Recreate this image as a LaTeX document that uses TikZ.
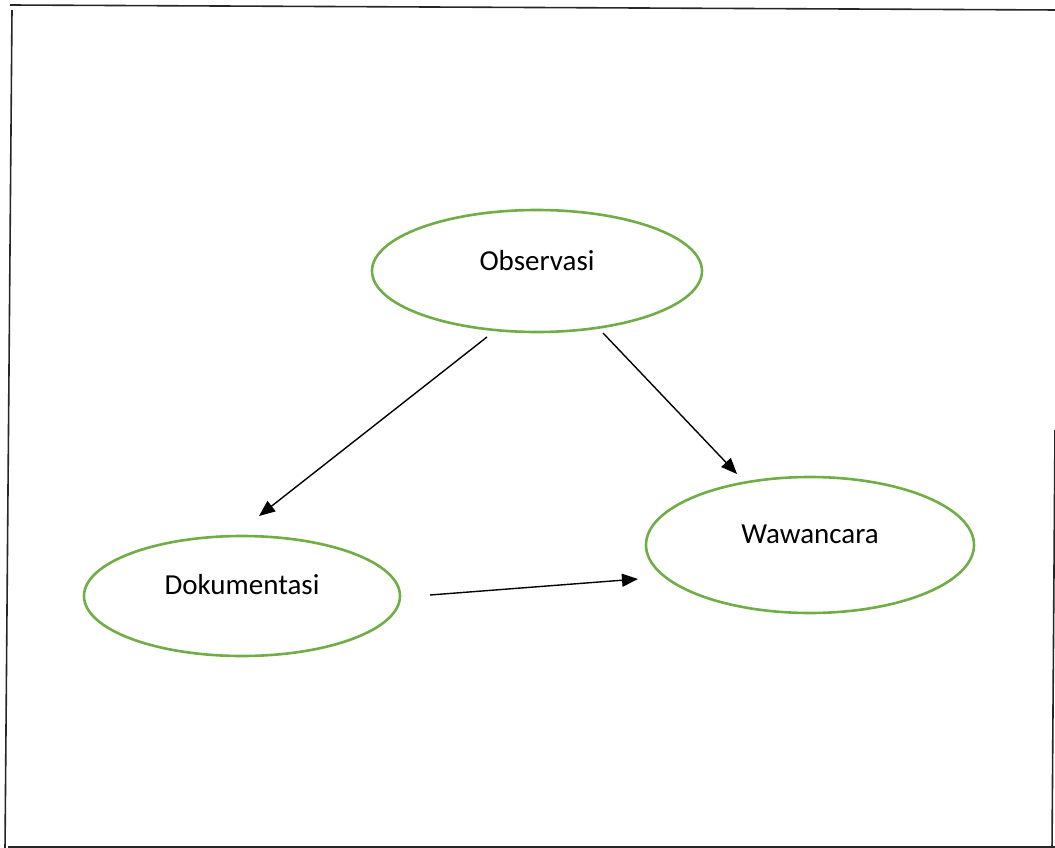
\documentclass[tikz,border=0pt]{standalone}
\usepackage{fontspec}
\setmainfont{Carlito}
\usetikzlibrary{arrows.meta}
\definecolor{officegreen}{HTML}{70AD47}
\tikzset{
  oval/.style={draw=officegreen, line width=2.6pt, ellipse, minimum width=#1},
  lbl/.style={font=\fontsize{29}{35}\selectfont},
  conn/.style={line width=1.4pt, -{Triangle[length=16pt,width=13pt]}},
  frame/.style={line width=1.6pt, black!85}
}
\usetikzlibrary{shapes.geometric}
\begin{document}
\begin{tikzpicture}[x=1pt,y=-1pt]
\useasboundingbox (0,0) rectangle (1055,848);
% frame
\draw[frame] (10,5) -- (1058,10);
\draw[frame] (12,10) -- (5,850);
\draw[frame] (8,847) -- (1058,847);
\draw[frame] (1055,430) -- (1052,850);
% ellipses
\draw[draw=officegreen, line width=2.6pt] (537,271) ellipse [x radius=165, y radius=61];
\draw[draw=officegreen, line width=2.6pt] (810,545) ellipse [x radius=164, y radius=68];
\draw[draw=officegreen, line width=2.6pt] (242,596) ellipse [x radius=158, y radius=60];
% labels
\node[lbl] (obs) at (537,261) {Observasi};
\node[lbl] (waw) at (810,534) {Wawancara};
\node[lbl] (dok) at (242,585) {Dokumentasi};
% connector ends
\coordinate (a1) at (487,337);
\coordinate (b1) at (259,516);
\coordinate (a2) at (603,333);
\coordinate (b2) at (737,474);
\coordinate (a3) at (430,595);
\coordinate (b3) at (638,579);
\draw[conn] (a1) -- (b1);
\draw[conn] (a2) -- (b2);
\draw[conn] (a3) -- (b3);
\end{tikzpicture}
\end{document}
